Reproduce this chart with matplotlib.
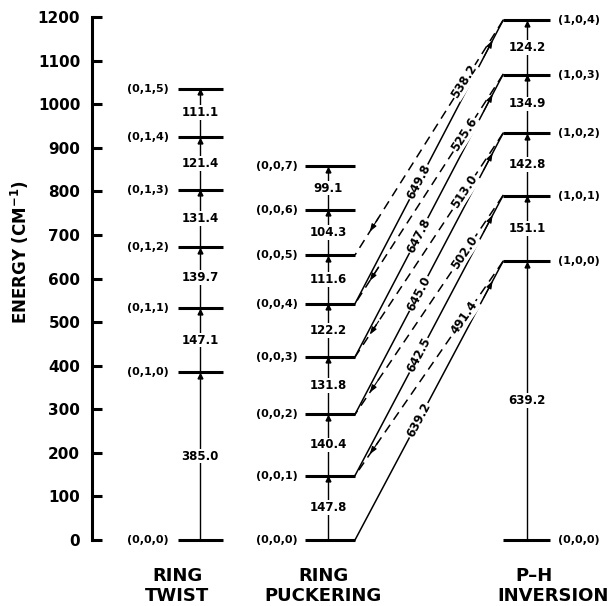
import numpy as np
import matplotlib.pyplot as plt

plt.rcParams['font.family'] = 'DejaVu Sans'
plt.rcParams['font.weight'] = 'bold'

# energy levels (cm-1) and level assignments
twist_levels = [0.0, 385.0, 532.1, 671.8, 803.2, 924.6, 1035.7]
twist_names = ['(0,0,0)', '(0,1,0)', '(0,1,1)', '(0,1,2)', '(0,1,3)', '(0,1,4)', '(0,1,5)']
twist_gaps = ['385.0', '147.1', '139.7', '131.4', '121.4', '111.1']

pucker_levels = [0.0, 147.8, 288.2, 420.0, 542.2, 653.8, 758.1, 857.2]
pucker_names = ['(0,0,0)', '(0,0,1)', '(0,0,2)', '(0,0,3)', '(0,0,4)', '(0,0,5)', '(0,0,6)', '(0,0,7)']
pucker_gaps = ['147.8', '140.4', '131.8', '122.2', '111.6', '104.3', '99.1']

inv_levels = [0.0, 639.2, 790.3, 933.1, 1068.0, 1192.2]
inv_names = ['(0,0,0)', '(1,0,0)', '(1,0,1)', '(1,0,2)', '(1,0,3)', '(1,0,4)']
inv_gaps = ['639.2', '151.1', '142.8', '134.9', '124.2']

# (0,0,v) -> (1,0,v) and (1,0,v) -> (0,0,v+1)
solid_freqs = ['639.2', '642.5', '645.0', '647.8', '649.8']
dashed_freqs = ['491.4', '502.0', '513.0', '525.6', '538.2']

fig = plt.figure(figsize=(6.08, 6.06), dpi=100)
ax = fig.add_axes([0, 0, 1, 1])
ax.set_xlim(0, 608)
ax.set_ylim(-151.4, 1239.0)

# y axis
for s in ['top', 'right', 'bottom']:
    ax.spines[s].set_visible(False)
ax.spines['left'].set_position(('data', 92))
ax.spines['left'].set_bounds(0, 1200)
ax.spines['left'].set_linewidth(2.2)
ax.set_xticks([])
ax.set_yticks(np.arange(0, 1201, 100))
ax.tick_params(axis='y', direction='in', length=7, width=2.2, labelsize=11, pad=8.5)
ax.text(20, 660, 'ENERGY (CM$^{\\mathbf{-1}}$)', rotation=90, ha='center', va='center',
        fontsize=12, fontweight='bold')

BAR_LW = 2.2
THIN = 1.0
lab_fs = 8
gap_fs = 8.5
box = dict(facecolor='white', edgecolor='none', pad=0.6)


def column(xc, x0, x1, levels, names, gaps, name_x, name_ha):
    ax.plot([xc, xc], [levels[0], levels[-1]], color='black', lw=THIN, zorder=1)
    for e, n in zip(levels, names):
        ax.plot([x0, x1], [e, e], color='black', lw=BAR_LW, solid_capstyle='butt', zorder=2)
        ax.text(name_x, e, n, ha=name_ha, va='center', fontsize=lab_fs, zorder=3)
    for lo, hi, g in zip(levels[:-1], levels[1:], gaps):
        ax.plot([xc], [hi - 8], marker='^', ms=3.5, color='black', zorder=2)
        ax.text(xc, (lo + hi) / 2, g, ha='center', va='center', fontsize=gap_fs, bbox=box, zorder=3)


column(200, 178, 223, twist_levels, twist_names, twist_gaps, 169, 'right')
column(328, 305, 355, pucker_levels, pucker_names, pucker_gaps, 298, 'right')
column(527, 503, 550, inv_levels, inv_names, inv_gaps, 558, 'left')

fig.canvas.draw()


def angle(p, q):
    a = ax.transData.transform(p)
    b = ax.transData.transform(q)
    return np.degrees(np.arctan2(b[1] - a[1], b[0] - a[0]))


def arrowhead(p, q, t):
    # small arrowhead at fraction t from p toward q, pointing to q
    tip = (p[0] + t * (q[0] - p[0]), p[1] + t * (q[1] - p[1]))
    tail = (p[0] + (t - 0.06) * (q[0] - p[0]), p[1] + (t - 0.06) * (q[1] - p[1]))
    ax.annotate('', xy=tip, xytext=tail,
                arrowprops=dict(arrowstyle='-|>,head_length=0.45,head_width=0.16',
                                color='black', lw=0.8, shrinkA=0, shrinkB=0))


xl, xr = 355, 503
for v in range(5):
    lo = (xl, pucker_levels[v])
    hi = (xr, inv_levels[v + 1])
    ax.plot([lo[0], hi[0]], [lo[1], hi[1]], color='black', lw=1.1, zorder=1)
    arrowhead(lo, hi, 0.93)
    t = 0.43
    pos = (lo[0] + t * (hi[0] - lo[0]), lo[1] + t * (hi[1] - lo[1]))
    ax.text(pos[0], pos[1], solid_freqs[v], rotation=angle(lo, hi), rotation_mode='anchor',
            ha='center', va='center', fontsize=gap_fs, bbox=box, zorder=3)

    top = (xr, inv_levels[v + 1])
    bot = (xl, pucker_levels[v + 1])
    ax.plot([top[0], bot[0]], [top[1], bot[1]], color='black', lw=1.1, ls=(0, (6, 4)), zorder=1)
    arrowhead(top, bot, 0.9)
    t = 0.26
    pos = (top[0] + t * (bot[0] - top[0]), top[1] + t * (bot[1] - top[1]))
    ax.text(pos[0], pos[1], dashed_freqs[v], rotation=angle(bot, top), rotation_mode='anchor',
            ha='center', va='center', fontsize=gap_fs, bbox=box, zorder=3)

# column titles
ax.text(177, -82, 'RING', ha='center', va='center', fontsize=13)
ax.text(177, -128, 'TWIST', ha='center', va='center', fontsize=13)
ax.text(323, -82, 'RING', ha='center', va='center', fontsize=13)
ax.text(323, -128, 'PUCKERING', ha='center', va='center', fontsize=13)
ax.text(534, -82, 'P\u2013H', ha='center', va='center', fontsize=13)
ax.text(553, -128, 'INVERSION', ha='center', va='center', fontsize=13)

fig.savefig('out.png', dpi=100, facecolor='white')
